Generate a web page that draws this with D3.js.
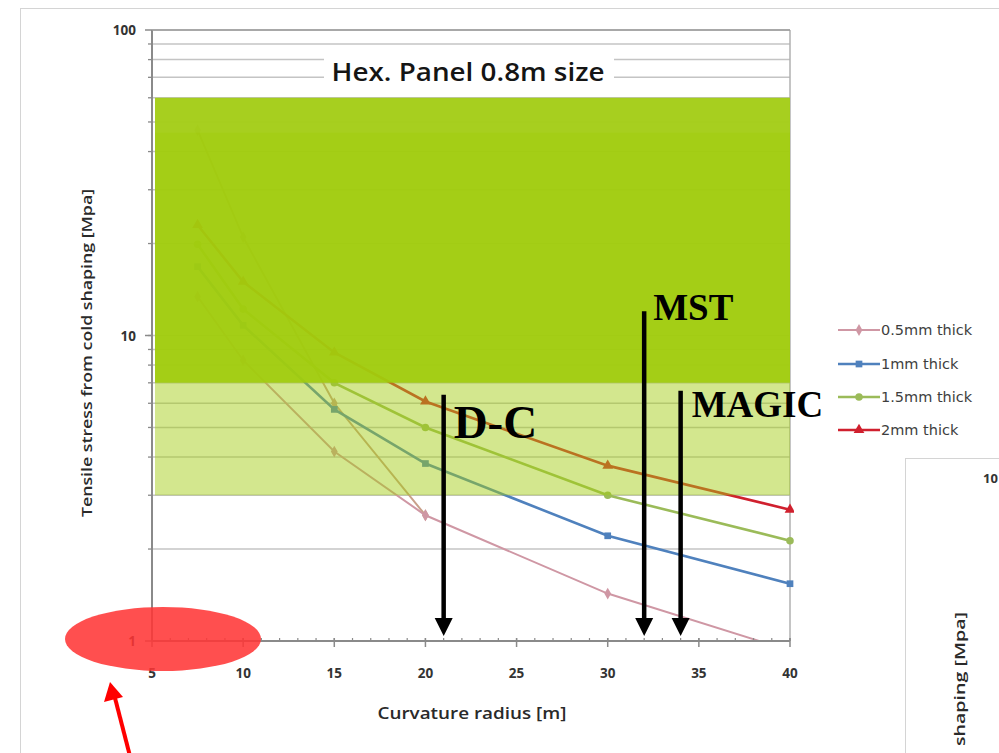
<!DOCTYPE html>
<html>
<head>
<meta charset="utf-8">
<script src="https://cdn.jsdelivr.net/npm/d3@7/dist/d3.min.js"></script>
<style>
  html, body { margin: 0; padding: 0; background: #fff; }
  svg { display: block; }
</style>
</head>
<body>
<svg id="chart" width="999" height="753"></svg>
<script>
// ---------------- data ----------------
const radii = [7.5, 10, 15, 20, 30, 40];
const seriesNames = ["0.5mm thick", "1mm thick", "1.5mm thick", "2mm thick"];
const stress05 = [13.4, 8.3, 4.17, 2.58, 1.43, 0.93];
const stress10 = [16.8, 10.8, 5.73, 3.81, 2.21, 1.54];
const stress15 = [19.9, 12.2, 7.0, 5.0, 3.0, 2.13];
const stress20 = [23.0, 15.0, 8.8, 6.08, 3.75, 2.69];
// an extra un-labelled trace visible in the reference
const extraRadii = [7.5, 10, 15, 20];
const extraStress = [47, 21, 6.0, 2.58];

const xTicks = [5, 10, 15, 20, 25, 30, 35, 40];
const yTicks = [1, 10, 100];
const darkBand = [7, 60];
const lightBand = [3, 7];

const arrowLabels = ["D-C", "MST", "MAGIC"];
const arrowRadii = [21, 32, 34];
const arrowTops = [6.4, 12, 6.6];

const chartTitle = "Hex. Panel 0.8m size";
const xTitle = "Curvature radius [m]";
const yTitle = "Tensile stress  from cold shaping [Mpa]";
const secondTick = "10";
const secondTitleTail = "shaping [Mpa]";

// ---------------- setup ----------------
const svg = d3.select("#chart");
const colors = ["#cf97a4", "#4f81bd", "#9bbb59", "#d0202e"];
const shapes = [d3.symbolDiamond, d3.symbolSquare, d3.symbolCircle, d3.symbolTriangle];
const symSizes = [40, 45, 45, 50];

const x = d3.scaleLinear().domain([5, 40]).range([152, 790]);
const y = d3.scaleLog().domain([1, 100]).range([641, 30]);

// outer frame
svg.append("rect").attr("x", 20.5).attr("y", 8.5).attr("width", 1000).attr("height", 760)
  .attr("fill", "#fff").attr("stroke", "#d4d4d4").attr("stroke-width", 1);

// grid lines (minor log grid)
const gridVals = [];
for (let d = 1; d <= 10; d *= 10) for (let k = 2; k <= 10; k++) gridVals.push(k * d);
svg.append("g").selectAll("line").data(gridVals).join("line")
  .attr("x1", x(5)).attr("x2", x(40))
  .attr("y1", d => y(d)).attr("y2", d => y(d))
  .attr("stroke", "#c4c4c4").attr("stroke-width", 1.5);

// right border of plot
svg.append("line").attr("x1", x(40)).attr("x2", x(40)).attr("y1", y(100)).attr("y2", y(1))
  .attr("stroke", "#b0b0b0").attr("stroke-width", 1.5);

// clip
svg.append("clipPath").attr("id", "plotclip").append("rect")
  .attr("x", x(5)).attr("y", y(100)).attr("width", x(40) - x(5) + 4).attr("height", y(1) - y(100) + 1);

const plot = svg.append("g").attr("clip-path", "url(#plotclip)");
const line = d3.line().x(d => x(d[0])).y(d => y(d[1]));

// extra trace
plot.append("path").datum(extraRadii.map((r, i) => [r, extraStress[i]]))
  .attr("d", line).attr("fill", "none").attr("stroke", "#c9a08a").attr("stroke-width", 2);
plot.append("g").selectAll("path").data(extraRadii.map((r, i) => [r, extraStress[i]])).join("path")
  .attr("transform", d => `translate(${x(d[0])},${y(d[1])})`)
  .attr("d", d3.symbol(shapes[0], symSizes[0])).attr("fill", "#c9a08a");

const allSeries = [stress05, stress10, stress15, stress20];
allSeries.forEach((vals, si) => {
  const pts = radii.map((r, i) => [r, vals[i]]);
  plot.append("path").datum(pts).attr("d", line).attr("fill", "none")
    .attr("stroke", colors[si]).attr("stroke-width", si === 0 ? 2 : 2.6);
  plot.append("g").selectAll("path").data(pts).join("path")
    .attr("transform", d => `translate(${x(d[0])},${y(d[1])})`)
    .attr("d", d3.symbol(shapes[si], symSizes[si])).attr("fill", colors[si]);
});

// bands
svg.append("rect").attr("x", x(5) + 3).attr("width", x(40) - x(5) - 3)
  .attr("y", y(lightBand[1])).attr("height", y(lightBand[0]) - y(lightBand[1]))
  .attr("fill", "#a4cd12").attr("opacity", 0.48);
svg.append("rect").attr("x", x(5) + 3).attr("width", x(40) - x(5) - 3)
  .attr("y", y(darkBand[1])).attr("height", y(darkBand[0]) - y(darkBand[1]))
  .attr("fill", "#a1cc0d").attr("opacity", 0.965);
svg.append("rect").attr("x", x(5) + 3).attr("width", x(40) - x(5) - 3)
  .attr("y", y(darkBand[1])).attr("height", 35)
  .attr("fill", "#ffffff").attr("opacity", 0.04);

// title with white box
svg.append("rect").attr("x", 324).attr("y", 50).attr("width", 290).attr("height", 46).attr("fill", "#fff");
svg.append("text").attr("x", 468).attr("y", 81).attr("text-anchor", "middle")
  .attr("font-family", "Open Sans").attr("font-weight", 600).attr("font-size", 25)
  .attr("textLength", 273).attr("lengthAdjust", "spacingAndGlyphs")
  .attr("fill", "#151515").text(chartTitle);

// axes
const axisColor = "#8a8a8a";
svg.append("line").attr("x1", x(5)).attr("x2", x(5)).attr("y1", y(100)).attr("y2", y(1))
  .attr("stroke", axisColor).attr("stroke-width", 2);
svg.append("line").attr("x1", x(5)).attr("x2", x(40)).attr("y1", y(1)).attr("y2", y(1))
  .attr("stroke", axisColor).attr("stroke-width", 2);
svg.append("line").attr("x1", x(5)).attr("x2", x(40)).attr("y1", y(100)).attr("y2", y(100))
  .attr("stroke", "#9a9a9a").attr("stroke-width", 1.5);

// y ticks
const yMinor = gridVals.filter(v => v < 100);
svg.append("g").selectAll("line").data(yMinor).join("line")
  .attr("x1", x(5) - 4).attr("x2", x(5)).attr("y1", d => y(d)).attr("y2", d => y(d))
  .attr("stroke", axisColor).attr("stroke-width", 1.3);
svg.append("g").selectAll("line").data(yTicks).join("line")
  .attr("x1", x(5) - 7).attr("x2", x(5)).attr("y1", d => y(d)).attr("y2", d => y(d))
  .attr("stroke", axisColor).attr("stroke-width", 1.5);
svg.append("g").selectAll("text").data(yTicks).join("text")
  .attr("x", x(5) - 16).attr("y", d => y(d) + 5).attr("text-anchor", "end")
  .attr("font-family", "Open Sans").attr("font-weight", 700).attr("font-size", 13.5)
  .attr("fill", "#333").text(d => d);

// x ticks
const xMinor = d3.range(5, 40.01, 1);
svg.append("g").selectAll("line").data(xMinor).join("line")
  .attr("x1", d => x(d)).attr("x2", d => x(d)).attr("y1", y(1) - 3).attr("y2", y(1))
  .attr("stroke", axisColor).attr("stroke-width", 1.2);
svg.append("g").selectAll("line").data(xTicks).join("line")
  .attr("x1", d => x(d)).attr("x2", d => x(d)).attr("y1", y(1) - 3).attr("y2", y(1) + 6)
  .attr("stroke", axisColor).attr("stroke-width", 1.5);
svg.append("g").selectAll("text").data(xTicks).join("text")
  .attr("x", d => x(d)).attr("y", y(1) + 37).attr("text-anchor", "middle")
  .attr("font-family", "Open Sans").attr("font-weight", 700).attr("font-size", 13.5)
  .attr("fill", "#333").text(d => d);

// axis titles
svg.append("text").attr("x", 472).attr("y", 719).attr("text-anchor", "middle")
  .attr("font-family", "Open Sans").attr("font-weight", 600).attr("font-size", 16)
  .attr("textLength", 189).attr("lengthAdjust", "spacingAndGlyphs")
  .attr("fill", "#2a2a2a").text(xTitle);
svg.append("text").attr("transform", "translate(92,353) rotate(-90)").attr("text-anchor", "middle")
  .attr("font-family", "Open Sans").attr("font-weight", 600).attr("font-size", 15)
  .attr("textLength", 328).attr("lengthAdjust", "spacingAndGlyphs")
  .attr("fill", "#2a2a2a").text(yTitle);

// legend
const legY = [330, 364, 397, 430];
const leg = svg.append("g");
seriesNames.forEach((name, i) => {
  leg.append("line").attr("x1", 838).attr("x2", 880).attr("y1", legY[i]).attr("y2", legY[i])
    .attr("stroke", colors[i]).attr("stroke-width", i === 0 ? 2 : 2.6);
  leg.append("path").attr("transform", `translate(859,${legY[i]})`)
    .attr("d", d3.symbol(shapes[i], symSizes[i])).attr("fill", colors[i]);
  leg.append("text").attr("x", 881).attr("y", legY[i] + 5)
    .attr("font-family", "DejaVu Sans").attr("font-size", 14.5)
    .attr("fill", "#3e3e3e").text(name);
});

// annotation arrows
const ann = svg.append("g");
const labelDx = [10, 9, 11];
const labelDy = [43, 9, 26];
const labelSize = [47, 37, 37];
arrowLabels.forEach((lab, i) => {
  const ax = x(arrowRadii[i]);
  const top = y(arrowTops[i]);
  const tip = y(1) - 5;
  ann.append("line").attr("x1", ax).attr("x2", ax).attr("y1", top).attr("y2", tip - 16)
    .attr("stroke", "#000").attr("stroke-width", 4.5);
  ann.append("path").attr("d", `M${ax - 9},${tip - 18}L${ax + 9},${tip - 18}L${ax},${tip}Z`).attr("fill", "#000");
  ann.append("text").attr("x", ax + labelDx[i]).attr("y", top + labelDy[i])
    .attr("font-family", "Liberation Serif").attr("font-weight", 700).attr("font-size", labelSize[i])
    .attr("fill", "#000").text(lab);
});

// red highlight ellipse + red arrow
svg.append("ellipse").attr("cx", 163).attr("cy", 639).attr("rx", 98).attr("ry", 32)
  .attr("fill", "#ff3535").attr("opacity", 0.87);
svg.append("line").attr("x1", 131).attr("y1", 760).attr("x2", 115).attr("y2", 698)
  .attr("stroke", "#ff0000").attr("stroke-width", 4);
svg.append("path").attr("d", "M110,682 L104,702 L123,697 Z").attr("fill", "#ff0000");

// partial second chart at bottom right
svg.append("rect").attr("x", 905.5).attr("y", 458.5).attr("width", 200).attr("height", 400)
  .attr("fill", "#fff").attr("stroke", "#d4d4d4").attr("stroke-width", 1);
svg.append("text").attr("x", 983).attr("y", 483)
  .attr("font-family", "Open Sans").attr("font-weight", 700).attr("font-size", 13)
  .attr("fill", "#333").text(secondTick);
svg.append("text").attr("transform", "translate(965,612) rotate(-90)").attr("text-anchor", "end")
  .attr("font-family", "Open Sans").attr("font-weight", 600).attr("font-size", 15)
  .attr("textLength", 134).attr("lengthAdjust", "spacingAndGlyphs")
  .attr("fill", "#2a2a2a").text(secondTitleTail);
</script>
</body>
</html>
